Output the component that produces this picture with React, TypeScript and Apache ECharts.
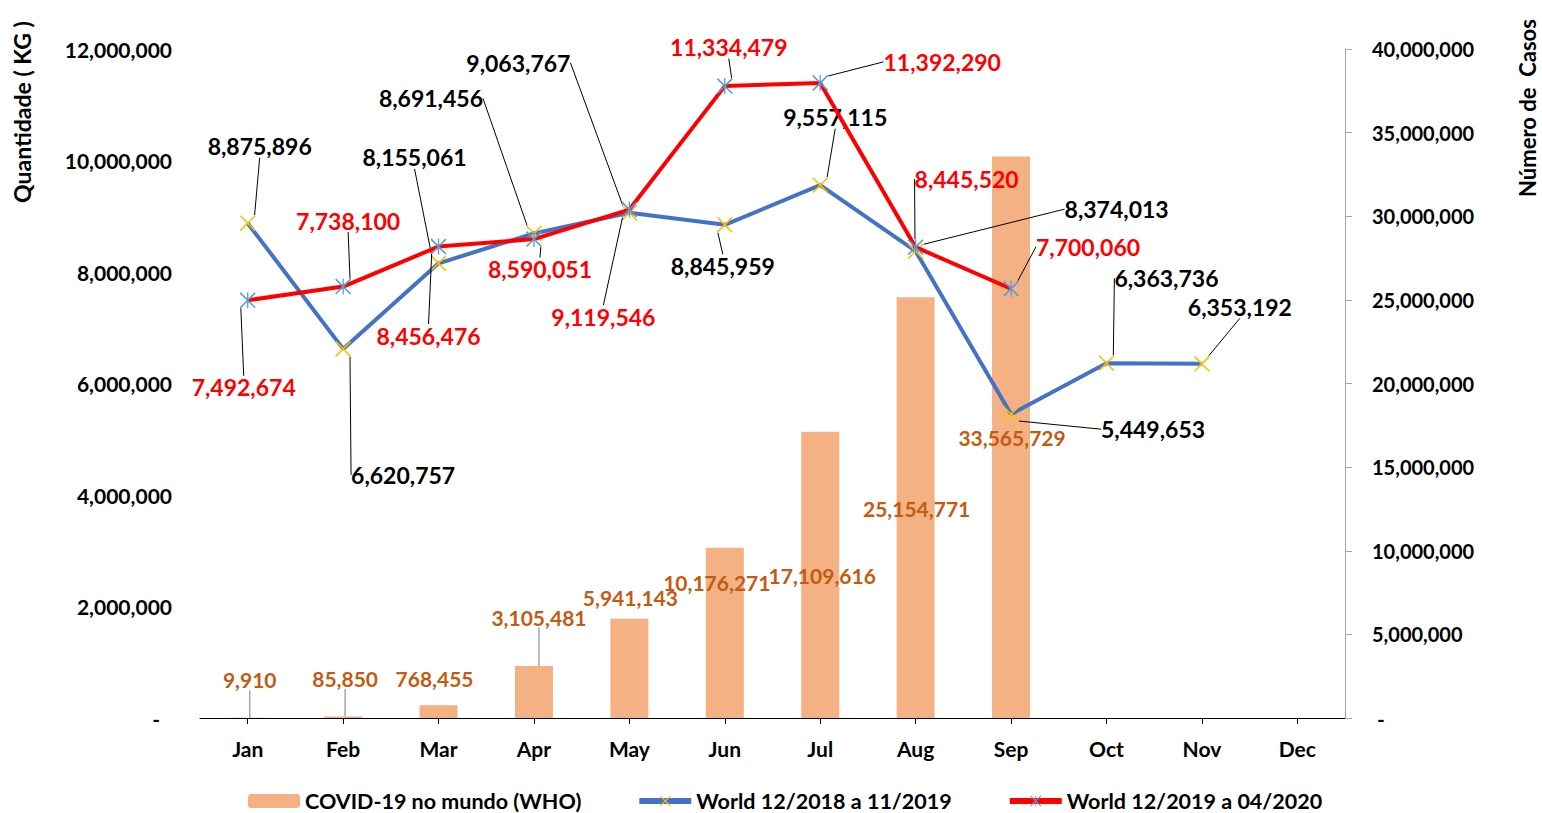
import React, { useEffect, useRef } from 'react';
import * as echarts from 'echarts';

const months = ['Jan', 'Feb', 'Mar', 'Apr', 'May', 'Jun', 'Jul', 'Aug', 'Sep', 'Oct', 'Nov', 'Dec'];
const covidCases = [9910, 85850, 768455, 3105481, 5941143, 10176271, 17109616, 25154771, 33565729, null, null, null];
const world2018 = [8875896, 6620757, 8155061, 8691456, 9063767, 8845959, 9557115, 8374013, 5449653, 6363736, 6353192, null];
const world2019 = [7492674, 7738100, 8456476, 8590051, 9119546, 11334479, 11392290, 8445520, 7700060, null, null, null];

const seriesNames = ['COVID-19 no mundo (WHO)', 'World 12/2018 a 11/2019', 'World 12/2019 a 04/2020'];
const leftAxis = { min: 0, max: 12000000, interval: 2000000, name: 'Quantidade ( KG )' };
const rightAxis = { min: 0, max: 40000000, interval: 5000000, name: 'Número de  Casos' };

// label placement offsets (label centre relative to anchor point), in px
const barLabelOffsets = [[2, -38], [2, -38], [-4, -27], [5, -49], [1, -21], [-8, 35], [2, 144], [1, 211], [1, 281]];
const barLeader = [true, true, false, true, false, false, false, false, false];
const blueLabelOffsets = [[12, -77], [60, 126], [-24, -106], [-103, -135], [-111, -150], [-2, 41], [15, -68], [201, -42], [142, 15], [60, -85], [38, -57]];
const redLabelOffsets = [[-4, 87], [5, -66], [-10, 89], [6, 30], [-26, 107], [4, -39], [122, -21], [51, -68], [77, -42]];

const FONT = 'Lato';
const fmt = (v: number) => Number(v).toLocaleString('en-US');

const X_PATH = 'path://M0,0.7L0.7,0L10,9.3L9.3,10Z M9.3,0L10,0.7L0.7,10L0,9.3Z';
const STAR_PATH = 'path://M0,0.7L0.7,0L10,9.3L9.3,10Z M9.3,0L10,0.7L0.7,10L0,9.3Z M4.6,0L5.4,0L5.4,10L4.6,10Z';

function makeLayout(offsets: number[][], fromTop: boolean) {
  return (p: any) => {
    const off = offsets[p.dataIndex];
    if (!off || !p.rect || !p.labelRect) return {};
    const r = p.rect;
    const lr = p.labelRect;
    const ax = r.x + r.width / 2;
    const ay = fromTop ? r.y : r.y + r.height / 2;
    return {
      dx: ax + off[0] - (lr.x + lr.width / 2),
      dy: ay + off[1] - (lr.y + lr.height / 2),
    };
  };
}

export default function App() {
  const ref = useRef<HTMLDivElement>(null);
  useEffect(() => {
    document.body.style.margin = '0';
    if (!ref.current) return;
    const chart = echarts.init(ref.current, null, { renderer: 'svg' });
    const axisLabelBase = { fontFamily: FONT, fontWeight: 'bold', fontSize: 21, color: '#000' };
    const option: any = {
      animation: false,
      textStyle: { fontFamily: FONT },
      grid: { left: 200, right: 197, top: 49, bottom: 95, containLabel: false, outerBoundsMode: 'none' },
      legend: {
        left: 243,
        top: 785,
        itemWidth: 52,
        itemHeight: 14,
        itemGap: 55,
        lineStyle: { width: 6 },
        textStyle: { fontFamily: FONT, fontWeight: 'bold', fontSize: 21.5, color: '#000' },
        data: seriesNames,
      },
      graphic: [
        {
          type: 'text', x: 22, y: 112, rotation: Math.PI / 2,
          style: { text: leftAxis.name, font: `bold 23px ${FONT}`, fill: '#000', align: 'center', verticalAlign: 'middle' },
        },
        {
          type: 'text', x: 1527, y: 108, rotation: Math.PI / 2,
          style: { text: rightAxis.name, font: `bold 22px ${FONT}`, fill: '#000', align: 'center', verticalAlign: 'middle' },
        },
      ],
      xAxis: {
        type: 'category',
        data: months,
        boundaryGap: true,
        axisLine: { lineStyle: { color: '#000', width: 1 } },
        axisTick: { show: true, alignWithLabel: true, length: 6, lineStyle: { color: '#000' } },
        axisLabel: { ...axisLabelBase, margin: 20 },
        splitLine: { show: false },
      },
      yAxis: [
        {
          type: 'value',
          min: leftAxis.min, max: leftAxis.max, interval: leftAxis.interval,
          position: 'left',
          axisLine: { show: false },
          axisTick: { show: false },
          splitLine: { show: false },
          axisLabel: {
            ...axisLabelBase, margin: 28,
            formatter: (v: number) => (v === 0 ? '{z|-}' : fmt(v)),
            rich: { z: { ...axisLabelBase, padding: [0, 12, 0, 0] } },
          },
        },
        {
          type: 'value',
          min: rightAxis.min, max: rightAxis.max, interval: rightAxis.interval,
          position: 'right',
          axisLine: { show: true, lineStyle: { color: '#A6A6A6', width: 1 } },
          axisTick: { show: true, inside: false, length: 7, lineStyle: { color: '#A6A6A6' } },
          splitLine: { show: false },
          axisLabel: {
            ...axisLabelBase, fontSize: 20, margin: 27,
            formatter: (v: number) => (v === 0 ? '{z|-}' : fmt(v)),
            rich: { z: { ...axisLabelBase, padding: [0, 0, 0, 5] } },
          },
        },
      ],
      series: [
        {
          name: seriesNames[0],
          type: 'bar',
          yAxisIndex: 1,
          barWidth: 38,
          itemStyle: { color: '#F4B183' },
          data: covidCases.map((v, i) => (v == null ? null : { value: v, labelLine: { show: barLeader[i] } })),
          label: {
            show: true, position: 'top', distance: 0,
            fontFamily: FONT, fontWeight: 'bold', fontSize: 21, color: '#C55A11',
            formatter: (p: any) => fmt(p.value),
          },
          labelLine: { show: false, lineStyle: { color: '#A6A6A6', width: 1.5 } },
          labelLayout: makeLayout(barLabelOffsets, true),
          z: 1,
        },
        {
          name: seriesNames[1],
          type: 'line',
          yAxisIndex: 0,
          symbol: X_PATH,
          symbolSize: 16,
          showAllSymbol: true,
          lineStyle: { color: '#4472C4', width: 4 },
          itemStyle: { color: '#FFC000' },
          data: world2018,
          label: {
            show: true, position: 'inside',
            fontFamily: FONT, fontWeight: 'bold', fontSize: 23, color: '#000',
            formatter: (p: any) => fmt(p.value),
          },
          labelLine: { show: true, length2: 0, lineStyle: { color: '#000', width: 1 } },
          labelLayout: makeLayout(blueLabelOffsets, false),
          z: 3,
        },
        {
          name: seriesNames[2],
          type: 'line',
          yAxisIndex: 0,
          symbol: STAR_PATH,
          symbolSize: 16,
          showAllSymbol: true,
          lineStyle: { color: '#FF0000', width: 4 },
          itemStyle: { color: '#5B9BD5' },
          data: world2019,
          label: {
            show: true, position: 'inside',
            fontFamily: FONT, fontWeight: 'bold', fontSize: 23, color: '#FF0000',
            formatter: (p: any) => fmt(p.value),
          },
          labelLine: { show: true, length2: 0, lineStyle: { color: '#000', width: 1 } },
          labelLayout: makeLayout(redLabelOffsets, false),
          z: 4,
        },
      ],
    };
    chart.setOption(option);
    return () => chart.dispose();
  }, []);
  return <div ref={ref} style={{ width: 1542, height: 813 }} />;
}
